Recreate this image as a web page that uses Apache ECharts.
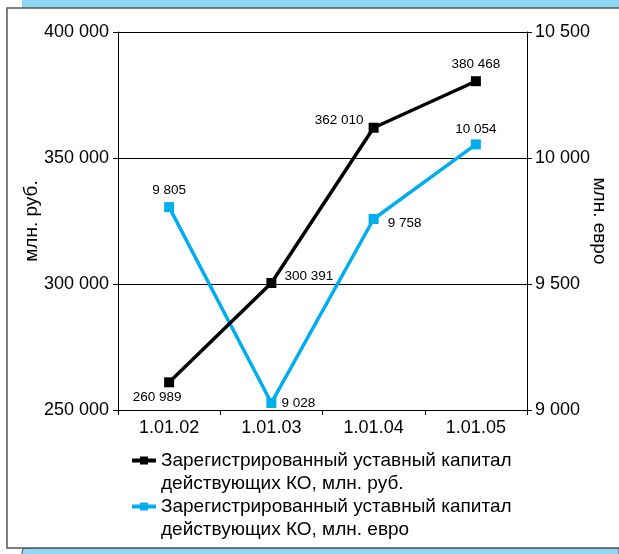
<!DOCTYPE html>
<html><head><meta charset="utf-8">
<script src="https://cdn.jsdelivr.net/npm/echarts@6/dist/echarts.min.js"></script>
<style>html,body{margin:0;padding:0;background:#fff}#c{width:619px;height:554px}</style>
</head><body><div id="c"></div>
<script>
const categories = ['1.01.02', '1.01.03', '1.01.04', '1.01.05'];
const rubValues = [260989, 300391, 362010, 380468];
const euroValues = [9805, 9028, 9758, 10054];
const rubTickLabels = ['250 000', '300 000', '350 000', '400 000'];
const euroTickLabels = ['9 000', '9 500', '10 000', '10 500'];
const seriesNames = ['Зарегистрированный уставный капитал\nдействующих КО, млн. руб.',
                     'Зарегистрированный уставный капитал\nдействующих КО, млн. евро'];
const axisNames = ['млн. руб.', 'млн. евро'];

const FONT = 'Liberation Sans, Arial, sans-serif';
const fmt = v => String(v).replace(/\B(?=(\d{3})+(?!\d))/g, ' ');
const BLUE = '#00ADEF';

const chart = echarts.init(document.getElementById('c'), null, {renderer: 'canvas'});
chart.setOption({
  animation: false,
  textStyle: {fontFamily: FONT},
  graphic: [
    {type: 'rect', z: -10, shape: {x: 22, y: 0, width: 597, height: 8}, style: {fill: '#8ED8F6'}},
    {type: 'rect', z: -9, shape: {x: 7, y: 8, width: 620, height: 540}, style: {fill: '#fff', stroke: '#555', lineWidth: 1.5}},
    {type: 'rect', z: -10, shape: {x: 22, y: 548, width: 597, height: 8, r: [4, 0, 0, 0]}, style: {fill: '#8ED8F6', stroke: '#555', lineWidth: 1}}
  ],
  grid: {left: 118, right: 92, top: 32, bottom: 144, outerBoundsMode: 'none', containLabel: false},
  legend: {
    orient: 'vertical', left: 130, top: 426, padding: 0, itemGap: -23,
    itemWidth: 24, itemHeight: 10,
    formatter: n => '\n' + n,
    lineStyle: {width: 4},
    textStyle: {fontSize: 19, lineHeight: 23, color: '#000', fontFamily: FONT},
    data: seriesNames
  },
  xAxis: {
    type: 'category', data: categories, boundaryGap: true,
    axisLine: {lineStyle: {color: '#000', width: 1}},
    axisTick: {show: true, length: 5, lineStyle: {color: '#000'}},
    axisLabel: {fontSize: 18, color: '#000', margin: 9}
  },
  yAxis: [
    {
      type: 'value', min: 250000, max: 400000, interval: 50000, position: 'left',
      name: axisNames[0], nameLocation: 'middle', nameGap: 77, nameRotate: 90, nameMoveOverlap: false,
      nameTextStyle: {fontSize: 19, color: '#000'},
      axisLine: {show: true, lineStyle: {color: '#000', width: 1}},
      axisTick: {show: true, length: 5, lineStyle: {color: '#000'}},
      axisLabel: {fontSize: 18, color: '#000', margin: 9,
        formatter: v => rubTickLabels[Math.round((v - 250000) / 50000)]},
      splitLine: {show: true, lineStyle: {color: '#000', width: 1}}
    },
    {
      type: 'value', min: 9000, max: 10500, interval: 500, position: 'right',
      name: axisNames[1], nameLocation: 'middle', nameGap: 63, nameRotate: -90, nameMoveOverlap: false,
      nameTextStyle: {fontSize: 19, color: '#000'},
      axisLine: {show: true, lineStyle: {color: '#000', width: 1}},
      axisTick: {show: true, length: 5, lineStyle: {color: '#000'}},
      axisLabel: {fontSize: 18, color: '#000', margin: 8,
        formatter: v => euroTickLabels[Math.round((v - 9000) / 500)]},
      splitLine: {show: false}
    }
  ],
  series: [
    {
      name: seriesNames[0], type: 'line', yAxisIndex: 0,
      symbol: 'rect', symbolSize: 10,
      lineStyle: {color: '#000', width: 3.5},
      itemStyle: {color: '#000'},
      z: 3,
      data: rubValues.map((v, i) => ({
        value: v,
        label: [
          {position: 'bottom', offset: [-12, -2]},
          {position: 'right', offset: [3, -7]},
          {position: 'left', offset: [0, -7]},
          {position: 'top', offset: [0, 0]}
        ][i]
      })),
      label: {show: true, fontSize: 13.5, color: '#000', formatter: p => fmt(p.value)}
    },
    {
      name: seriesNames[1], type: 'line', yAxisIndex: 1,
      symbol: 'rect', symbolSize: 10,
      lineStyle: {color: BLUE, width: 3.5},
      itemStyle: {color: BLUE},
      z: 2,
      data: euroValues.map((v, i) => ({
        value: v,
        label: [
          {position: 'top', offset: [0, 0]},
          {position: 'right', offset: [0, 0]},
          {position: 'right', offset: [4, 4]},
          {position: 'top', offset: [0, 2]}
        ][i]
      })),
      label: {show: true, fontSize: 13.5, color: '#000', formatter: p => fmt(p.value)}
    }
  ]
});
</script></body></html>
